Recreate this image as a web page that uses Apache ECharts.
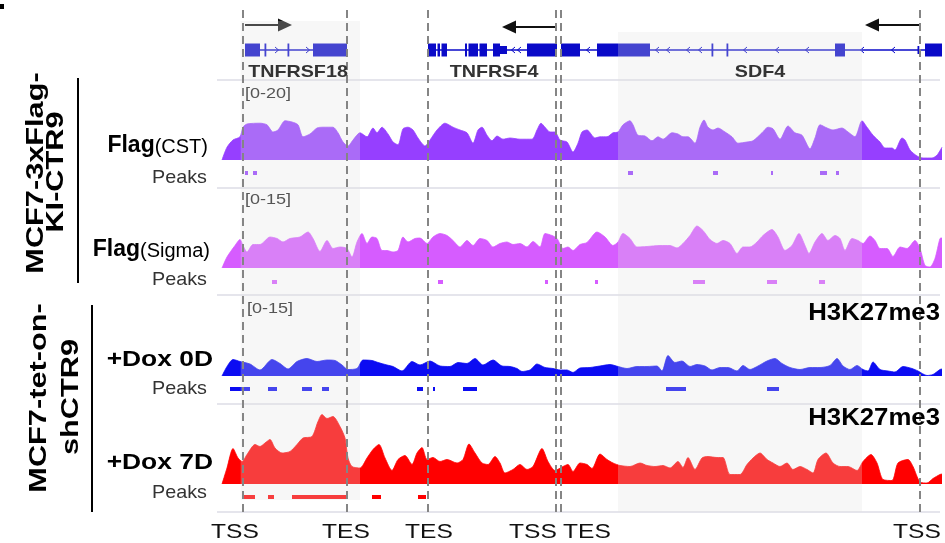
<!DOCTYPE html>
<html>
<head>
<meta charset="utf-8">
<script src="https://cdn.jsdelivr.net/npm/echarts@6.0.0/dist/echarts.min.js"></script>
<style>
html,body{margin:0;padding:0;background:#fff;}
#chart{width:945px;height:543px;}
</style>
</head>
<body>
<div id="chart"></div>
<script>
// ================= DATA (genomic bins, 0..720) =================
const xMax = 720;

// signal tracks: [position, value]
const cstSignal = [[0,0],[5,3.2],[11,5],[18,5.8],[21,8.2],[25,9],[38,9.2],[45,8.8],[51,7],[56,7.5],[63,9.8],[70,9.5],[76,8.8],[81,5.8],[88,6.5],[95,8],[101,8.2],[111,8.2],[116,6.8],[121,4.5],[126,3.5],[131,5],[138,6.8],[145,5.8],[151,8],[155,6.8],[160,8.2],[166,6.5],[171,4.5],[176,3.8],[181,7.8],[186,8.2],[191,7.5],[196,5.5],[203,3.5],[208,5],[215,7.5],[223,9.2],[231,8.2],[238,7.5],[245,6.8],[251,4.2],[256,7.5],[260,8.2],[265,6.2],[270,4.8],[275,6],[281,5.2],[288,5.5],[298,5.2],[310,5.2],[315,7.5],[319,9.2],[323,8.2],[328,7],[333,7],[338,5],[345,4.5],[351,2],[356,4.2],[360,7],[365,7.5],[373,5.5],[378,5.8],[385,5.8],[391,6.8],[396,7],[401,8.8],[408,9.8],[411,8.8],[416,6.2],[423,6],[430,4.8],[436,5.8],[441,5.2],[450,6.8],[456,6.5],[461,5.8],[466,5.8],[473,4.2],[478,8.2],[482,10],[486,8.2],[491,7.5],[496,8],[503,7],[510,5.8],[516,4.2],[525,4.5],[531,4.8],[540,6.8],[546,8.2],[551,7.8],[558,5.2],[566,8.5],[573,6.8],[580,6.2],[588,2.8],[593,5.5],[598,8.8],[605,8],[611,7.5],[620,8],[626,7],[633,5.8],[640,9.8],[645,8.2],[651,6.2],[658,4.5],[663,3],[670,3],[673,2.5],[680,5.5],[683,5],[688,2.5],[695,1],[701,0.5],[710,0.5],[715,1.2],[720,3.2]];

const sigmaSignal = [[0,0],[5,2.2],[13,4.5],[18,5.7],[21,4.5],[25,3.2],[31,4.7],[38,4.7],[48,6.2],[55,5.9],[61,5.2],[68,5.9],[78,6.2],[86,7.2],[91,5.9],[98,3.3],[105,5.5],[111,3.9],[118,4.2],[125,3.9],[130,2.2],[135,5.2],[140,6.9],[145,4.9],[150,6.2],[155,5.9],[160,3.5],[165,3.5],[171,3.2],[176,3.5],[181,6.2],[186,5.2],[193,5.9],[198,6],[205,4.9],[211,6.2],[218,6.9],[225,6.5],[231,5.5],[238,4.2],[245,5.5],[251,4.5],[258,5.9],[265,5.5],[271,4.2],[278,4.9],[285,5.2],[291,4.7],[298,4.9],[305,4.2],[311,5.3],[318,4.2],[323,6.9],[330,6.5],[335,5.9],[341,3.9],[346,4.2],[351,3.5],[358,4.7],[365,5.1],[375,7.2],[383,6.2],[391,4.5],[396,5.2],[401,6.9],[408,5.9],[415,4.2],[425,4.3],[438,4.5],[448,4.5],[455,4.0],[461,4.9],[468,6.5],[475,8.4],[481,7.5],[488,5.7],[495,4.9],[501,5.5],[508,4.9],[515,2.9],[521,4.2],[528,4.2],[535,5.2],[541,6.5],[550,7.7],[556,6.2],[563,3.5],[570,4.5],[577,6.9],[583,4.5],[587,2.9],[593,5.2],[600,6.9],[606,5.5],[613,6.5],[618,5.9],[623,3.5],[630,5.9],[636,5.5],[641,4.9],[648,6.4],[653,5.5],[658,3.9],[665,3.9],[671,2.3],[678,4.2],[685,3.9],[693,5.5],[698,3.9],[703,0.5],[708,0.2],[713,1.9],[718,5.9],[720,6]];

const dox0Signal = [[0,0],[5,1.9],[11,3.3],[18,2.9],[28,2.4],[38,1.2],[50,3.3],[58,2.5],[66,1.4],[75,2.9],[85,3.5],[95,2.9],[105,3.2],[113,3.1],[120,2.2],[126,1.3],[135,1.5],[141,3.2],[150,3.1],[156,2.7],[165,2.2],[171,1.9],[180,1.0],[190,2.9],[198,2.2],[208,3.0],[218,2.0],[228,1.9],[236,2.7],[245,2.5],[253,3.5],[261,2.2],[271,3.2],[280,2.0],[288,1.9],[295,1.5],[300,0.9],[308,1.2],[315,2.4],[323,1.7],[331,1.5],[338,1.2],[345,1.2],[351,0.7],[358,1.6],[368,1.7],[378,2.0],[388,2.3],[396,1.9],[405,1.5],[415,1.9],[425,1.9],[435,2.0],[440,1.0],[446,4.1],[453,2.7],[460,3.0],[468,1.9],[475,2.3],[483,2.0],[490,1.2],[498,1.7],[506,1.7],[515,1.0],[521,2.1],[528,1.3],[536,2.0],[545,3.0],[553,3.5],[560,2.5],[568,1.7],[578,1.3],[588,1.7],[598,1.7],[608,2.1],[615,3.5],[621,2.0],[628,1.3],[635,2.1],[641,1.3],[646,1.0],[651,2.8],[658,1.3],[666,1.0],[673,0.8],[681,1.9],[690,1.5],[696,1.0],[705,0.1],[711,0.3],[718,1.3],[720,1.4]];

const dox7Signal = [[0,0],[5,3.2],[11,7.1],[16,5.2],[20,4.5],[25,5.9],[33,7.9],[38,7.5],[43,8.2],[48,8.9],[53,7.2],[60,6.2],[68,6.5],[75,7.9],[81,9.2],[90,9.5],[96,12.5],[100,13.9],[105,13.1],[111,13.5],[118,11.5],[123,9.2],[126,5.2],[130,3.5],[138,3.2],[145,5.2],[151,6.9],[157,7.9],[163,5.2],[170,2.7],[176,4.9],[183,5.7],[190,3.9],[195,6.2],[200,7.3],[205,4.9],[211,5.3],[218,4.5],[225,4.9],[235,4.2],[241,4.9],[247,8.0],[253,6.2],[260,4.2],[266,3.9],[273,5.5],[278,4.2],[283,2.2],[291,2.9],[298,3.9],[305,2.9],[311,3.5],[320,7.1],[326,4.5],[333,2.7],[341,3.5],[346,3.9],[351,2.5],[358,4.2],[365,3.9],[370,3.1],[378,6.0],[385,4.9],[391,4.2],[398,3.7],[408,3.5],[418,4.2],[425,3.7],[433,3.5],[441,3.7],[448,3.2],[456,4.5],[461,3.3],[466,5.3],[473,2.9],[480,5.2],[486,5.5],[495,5.3],[501,5.3],[508,1.9],[518,1.9],[525,3.9],[531,5.2],[538,6.2],[545,4.9],[551,4.2],[558,3.5],[565,4.2],[571,2.9],[578,3.5],[585,2.9],[591,2.2],[596,4.9],[604,6.2],[611,4.2],[618,3.5],[626,3.5],[635,2.7],[641,4.5],[649,5.9],[655,4.2],[661,0.9],[670,0.7],[676,4.2],[686,4.9],[691,3.5],[698,0.4],[705,0.2],[711,1.1],[718,1.9],[720,2]];

// peaks: [start, end]
const cstPeaks   = [[23,26],[31,35],[406,411],[491,496],[549,551],[598,605],[614,617]];
const sigmaPeaks = [[50,55],[216,221],[323,326],[373,376],[471,483],[545,555],[597,603]];
const dox0Peaks  = [[8,28],[46,55],[80,90],[100,107],[195,201],[211,213],[241,255],[444,464],[545,557]];
const dox7Peaks  = [[21,33],[46,52],[70,124],[150,159],[196,204]];

// genes
const geneNames    = ['TNFRSF18', 'TNFRSF4', 'SDF4'];
const geneStart    = [23, 206, 339];
const geneEnd      = [125, 335, 720];
const geneStrand   = [1, -1, -1];
const geneTss      = [23, 335, 698];
const geneArrowTip = [70, 280, 643];
const geneLabelPos = [76, 272, 538];
// exons: [start, end, kind] kind 1 = coding, 0 = UTR
const exons = [[23,38,1],[42.5,44,1],[65.5,67,1],[91,125,1],
  [206,214,1],[215.5,218,1],[219.5,225,1],[243,245,1],[246.5,256,1],[257.5,265,1],[271,278,1],[278,285,0],[305,335,1],
  [339,358,1],[375,428,1],[489.5,491,1],[504.5,506,1],[613,623,1],[695.5,697,0],[703,720,1]];
// intron direction chevrons: [position, strand]
const chevrons = [[55,1],[86,1],[291,-1],[297,-1],[366,-1],[435,-1],[446,-1],[466,-1],[478,-1],[523,-1],[555,-1],[585,-1],[640,-1],[671,-1]];

// highlighted gene regions, TSS/TES dashed lines and their labels
const shadeRegions = [[18.7,138],[396,640]];
const sitePos      = [21, 125, 206, 334, 339, 698];
const siteLabels   = ['TSS','TES','TES','TSS','TES','TSS'];
const siteLabelPos = [13, 124, 207, 311, 365, 695];

// ================= LAYOUT =================
const FONT = "'Liberation Sans', Arial, Helvetica, sans-serif";
const PLOT_LEFT = 222, PLOT_W = 720;
const GENE_COLOR = '#0A0AC8';
const GENE_Y = 50;
const ARROW_Y = [25, 27, 25];
const SHADE_Y = [[21, 500], [32, 512]];
const PEAK_Y = [173, 282, 389, 497];

const tracks = [
  {data: cstSignal,   peaks: cstPeaks,   color: '#963FFF', top: 80,  h: 80, max: 20},
  {data: sigmaSignal, peaks: sigmaPeaks, color: '#D65CFF', top: 193, h: 75, max: 15},
  {data: dox0Signal,  peaks: dox0Peaks,  color: '#0C0CF2', top: 301, h: 75, max: 15},
  {data: dox7Signal,  peaks: dox7Peaks,  color: '#FF0000', top: 409, h: 75, max: 15}
];

const grids = [{left: PLOT_LEFT, width: PLOT_W, top: 0, height: 543}]
  .concat(tracks.map(t => ({left: PLOT_LEFT, width: PLOT_W, top: t.top, height: t.h})));
const xAxes = grids.map((g, i) => ({gridIndex: i, type: 'value', min: 0, max: xMax, show: false}));
const yAxes = [{gridIndex: 0, type: 'value', min: 0, max: 543, inverse: true, show: false}]
  .concat(tracks.map((t, i) => ({gridIndex: i + 1, type: 'value', min: 0, max: t.max, show: false})));

const allPeaks = [];
tracks.forEach((t, ti) => t.peaks.forEach(p => allPeaks.push([p[0], p[1], ti])));

const series = [];
tracks.forEach((t, i) => {
  series.push({
    type: 'line', xAxisIndex: i + 1, yAxisIndex: i + 1,
    data: t.data, showSymbol: false, symbol: 'none', smooth: 0.25,
    lineStyle: {width: 0.8, color: t.color}, areaStyle: {color: t.color, opacity: 1},
    z: 2, silent: true
  });
});

// peaks
series.push({
  type: 'custom', xAxisIndex: 0, yAxisIndex: 0, z: 3, silent: true,
  data: allPeaks,
  renderItem(params, api) {
    const pk = allPeaks[params.dataIndex];
    const a = api.coord([pk[0], PEAK_Y[pk[2]]]);
    const b = api.coord([pk[1], PEAK_Y[pk[2]]]);
    return {type: 'rect', shape: {x: a[0], y: a[1] - 2, width: Math.max(b[0] - a[0], 2), height: 4},
            style: {fill: tracks[pk[2]].color}};
  }
});

// gene lines and arrows
series.push({
  type: 'custom', xAxisIndex: 0, yAxisIndex: 0, z: 3, silent: true,
  data: geneNames.map((n, i) => [geneStart[i], geneEnd[i]]),
  renderItem(params, api) {
    const i = params.dataIndex;
    const a = api.coord([geneStart[i], GENE_Y]);
    const b = api.coord([geneEnd[i], GENE_Y]);
    const t = api.coord([geneTss[i], ARROW_Y[i]]);
    const tip = api.coord([geneArrowTip[i], ARROW_Y[i]]);
    const d = geneStrand[i];
    return {type: 'group', children: [
      {type: 'line', shape: {x1: a[0], y1: a[1], x2: b[0], y2: b[1]}, style: {stroke: GENE_COLOR, lineWidth: 1.3}},
      {type: 'line', shape: {x1: t[0], y1: t[1], x2: tip[0] - d * 8, y2: t[1]}, style: {stroke: '#111', lineWidth: 2}},
      {type: 'polygon', shape: {points: [[tip[0], t[1]], [tip[0] - d * 14, t[1] - 6.5], [tip[0] - d * 14, t[1] + 6.5]]}, style: {fill: '#111'}}
    ]};
  }
});

// gene names (above the shading)
series.push({
  type: 'custom', xAxisIndex: 0, yAxisIndex: 0, z: 12, silent: true,
  data: geneLabelPos.map(p => [p]),
  renderItem(params, api) {
    const i = params.dataIndex;
    const lab = api.coord([geneLabelPos[i], 72]);
    return {type: 'text', x: lab[0], y: lab[1], scaleX: 1.16,
       style: {text: geneNames[i], font: 'bold 17px ' + FONT, fill: '#333', align: 'center', verticalAlign: 'middle'}};
  }
});

// exons
series.push({
  type: 'custom', xAxisIndex: 0, yAxisIndex: 0, z: 4, silent: true,
  data: exons.map(e => [e[0], e[1]]),
  renderItem(params, api) {
    const e = exons[params.dataIndex];
    const a = api.coord([e[0], GENE_Y]);
    const b = api.coord([e[1], GENE_Y]);
    const h = e[2] === 1 ? 13 : 8;
    return {type: 'rect', shape: {x: a[0], y: a[1] - h / 2, width: Math.max(b[0] - a[0], 1.8), height: h},
            style: {fill: GENE_COLOR}};
  }
});

// chevrons
series.push({
  type: 'custom', xAxisIndex: 0, yAxisIndex: 0, z: 4, silent: true,
  data: chevrons.map(c => [c[0]]),
  renderItem(params, api) {
    const c = chevrons[params.dataIndex];
    const p = api.coord([c[0], GENE_Y]);
    const d = c[1];
    return {type: 'polyline', shape: {points: [[p[0] - d * 2, p[1] - 3], [p[0] + d * 1.5, p[1]], [p[0] - d * 2, p[1] + 3]]},
            style: {stroke: GENE_COLOR, fill: null, lineWidth: 1}};
  }
});

// shaded regions (overlay)
series.push({
  type: 'custom', xAxisIndex: 0, yAxisIndex: 0, z: 10, silent: true,
  data: shadeRegions,
  renderItem(params, api) {
    const r = shadeRegions[params.dataIndex];
    const yy = SHADE_Y[params.dataIndex];
    const a = api.coord([r[0], yy[0]]);
    const b = api.coord([r[1], yy[1]]);
    return {type: 'rect', shape: {x: a[0], y: a[1], width: b[0] - a[0], height: b[1] - a[1]},
            style: {fill: 'rgba(225,225,225,0.27)'}};
  }
});

// dashed TSS/TES lines
series.push({
  type: 'custom', xAxisIndex: 0, yAxisIndex: 0, z: 11, silent: true,
  data: sitePos.map(p => [p]),
  renderItem(params, api) {
    const a = api.coord([sitePos[params.dataIndex], 10]);
    const b = api.coord([sitePos[params.dataIndex], 512]);
    return {type: 'line', shape: {x1: a[0], y1: a[1], x2: b[0], y2: b[1]},
            style: {stroke: '#858585', lineWidth: 2, lineDash: [8, 5]}};
  }
});

// TSS/TES labels
series.push({
  type: 'custom', xAxisIndex: 0, yAxisIndex: 0, z: 12, silent: true,
  data: siteLabelPos.map(p => [p]),
  renderItem(params, api) {
    const a = api.coord([siteLabelPos[params.dataIndex], 532]);
    return {type: 'text', x: a[0], y: a[1], scaleX: 1.17,
            style: {text: siteLabels[params.dataIndex], font: '21px ' + FONT, fill: '#111', align: 'center', verticalAlign: 'middle'}};
  }
});

function txt(x, y, text, font, align, scaleX, fill, extra) {
  return Object.assign({type: 'text', x: x, y: y, scaleX: scaleX || 1, z: 100,
    style: {text: text, font: font, fill: fill || '#000', align: align, verticalAlign: 'middle'}}, extra || {});
}
function rich(x, y, a, b) {
  return {type: 'text', x: x, y: y, z: 100,
    style: {text: '{a|' + a + '}{b|' + b + '}', align: 'right', verticalAlign: 'middle',
      rich: {a: {font: 'bold 23px ' + FONT, fill: '#000', verticalAlign: 'bottom'},
             b: {font: '20px ' + FONT, fill: '#000', verticalAlign: 'bottom'}}}};
}

const separators = [80, 188, 295, 404, 512];
const graphics = [];
separators.forEach(y => graphics.push({type: 'line', z: 1, shape: {x1: 217, y1: y, x2: 940, y2: y}, style: {stroke: '#dcdce6', lineWidth: 1.5}}));
graphics.push({type: 'rect', z: 100, shape: {x: 0, y: 4, width: 4, height: 5}, style: {fill: '#000'}});
// group labels (rotated)
graphics.push(txt(36, 173, 'MCF7-3xFlag-', 'bold 24px ' + FONT, 'center', 1.28, '#000', {rotation: Math.PI / 2}));
graphics.push(txt(56, 172, 'KI-CTR9', 'bold 24px ' + FONT, 'center', 1.28, '#000', {rotation: Math.PI / 2}));
graphics.push(txt(39, 398, 'MCF7-tet-on-', 'bold 24px ' + FONT, 'center', 1.28, '#000', {rotation: Math.PI / 2}));
graphics.push(txt(71, 397, 'shCTR9', 'bold 24px ' + FONT, 'center', 1.28, '#000', {rotation: Math.PI / 2}));
graphics.push({type: 'line', z: 100, shape: {x1: 78, y1: 78, x2: 78, y2: 283}, style: {stroke: '#000', lineWidth: 2}});
graphics.push({type: 'line', z: 100, shape: {x1: 92, y1: 305, x2: 92, y2: 512}, style: {stroke: '#000', lineWidth: 2}});
// track labels
graphics.push(rich(208, 146, 'Flag', '(CST)'));
graphics.push(txt(207, 178, 'Peaks', '19px ' + FONT, 'right', 1.04, '#333'));
graphics.push(rich(210, 250, 'Flag', '(Sigma)'));
graphics.push(txt(207, 280, 'Peaks', '19px ' + FONT, 'right', 1.04, '#333'));
graphics.push(txt(213, 360, '+Dox 0D', 'bold 22px ' + FONT, 'right', 1.2, '#000'));
graphics.push(txt(207, 389, 'Peaks', '19px ' + FONT, 'right', 1.04, '#333'));
graphics.push(txt(213, 463, '+Dox 7D', 'bold 22px ' + FONT, 'right', 1.2, '#000'));
graphics.push(txt(207, 493, 'Peaks', '19px ' + FONT, 'right', 1.04, '#333'));
// data range labels
graphics.push(txt(245, 94, '[0-20]', '15px ' + FONT, 'left', 1.2, '#555'));
graphics.push(txt(245, 200, '[0-15]', '15px ' + FONT, 'left', 1.2, '#555'));
graphics.push(txt(247, 309, '[0-15]', '15px ' + FONT, 'left', 1.2, '#555'));
// mark labels
graphics.push(txt(940, 314, 'H3K27me3', 'bold 23px ' + FONT, 'right', 1.12, '#000'));
graphics.push(txt(940, 419, 'H3K27me3', 'bold 23px ' + FONT, 'right', 1.12, '#000'));

const chart = echarts.init(document.getElementById('chart'), null, {renderer: 'canvas'});
chart.setOption({
  animation: false,
  backgroundColor: '#ffffff',
  grid: grids,
  xAxis: xAxes,
  yAxis: yAxes,
  series: series,
  graphic: {elements: graphics}
});
</script>
</body>
</html>
